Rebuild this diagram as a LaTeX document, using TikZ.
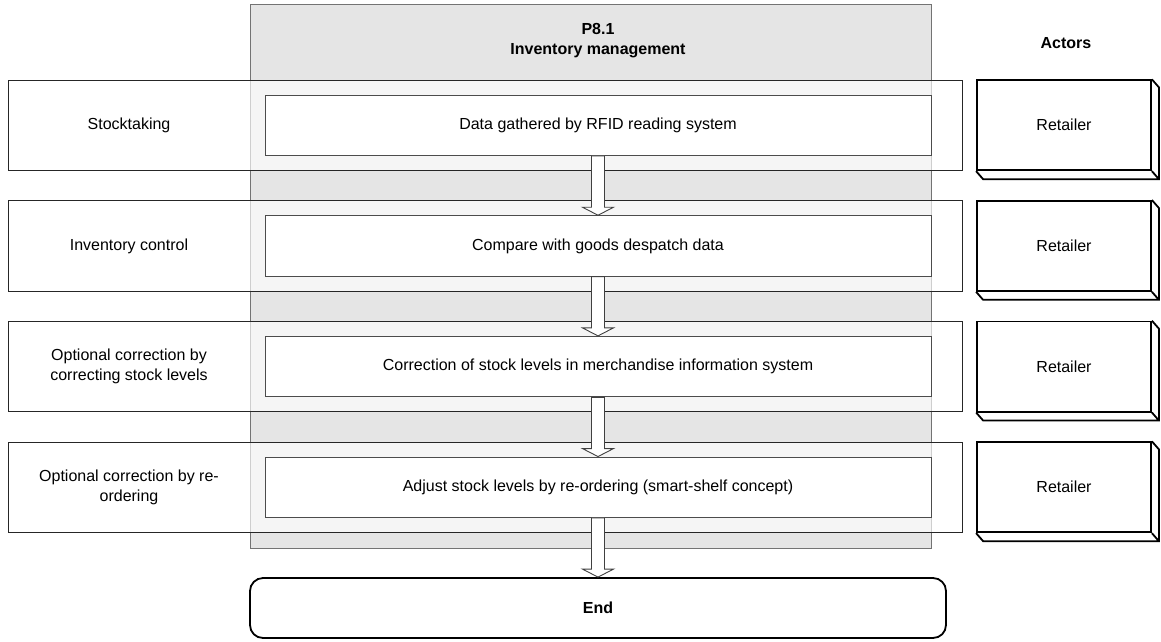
\documentclass[tikz,border=0pt]{standalone}
\usepackage{fontspec}
\setmainfont{Liberation Sans}
\usetikzlibrary{calc}
\tikzset{
  lane/.style={draw=black!55, fill=gray!20, minimum width=681pt, minimum height=544pt, inner sep=0pt},
  rowbox/.style={draw=black!85, fill=white, fill opacity=0.65, text opacity=1, line width=0.9pt, minimum width=954pt, minimum height=90.5pt, inner sep=0pt},
  stepbox/.style={draw=black!70, fill=white, line width=0.9pt, minimum width=666pt, minimum height=60.5pt, inner sep=0pt},
  actorbox/.style={draw, fill=white, line width=1.8pt, minimum width=174pt, minimum height=90pt, inner sep=0pt},
  endbox/.style={draw, line width=1.8pt, rounded corners=13pt, minimum width=696pt, minimum height=60pt, inner sep=0pt},
  hollow/.style={draw=black!75, fill=white, line width=0.9pt, to path={
    ++(-6.5,0) -- ($(\tikztotarget)+(-6.5,-8)$) -- ($(\tikztotarget)+(-15.5,-8)$)
    -- (\tikztotarget) -- ($(\tikztotarget)+(15.5,-8)$) -- ($(\tikztotarget)+(6.5,-8)$)
    -- ($(\tikztostart)+(6.5,0)$) -- cycle}},
}
\begin{document}
\begin{tikzpicture}[x=1pt, y=-1pt, font=\fontsize{16}{20}\selectfont, align=center]
    \useasboundingbox (0,0) rectangle (1161,641);
    % swim lane and headers
    \node[lane] (lane) at (590.5,276) {};
    \node[font=\fontsize{16}{20}\selectfont\bfseries] (title) at (598,41) {P8.1\\Inventory management};
    \node[font=\fontsize{16}{20}\selectfont\bfseries] (actors) at (1066,43) {Actors};
    % rows
    \foreach \i/\lab/\txt in {1/Stocktaking/Data gathered by RFID reading system,
        2/Inventory control/Compare with goods despatch data,
        3/{Optional correction by\\correcting stock levels}/Correction of stock levels in merchandise information system,
        4/{Optional correction by re-\\ordering}/Adjust stock levels by re-ordering (smart-shelf concept)} {
      \pgfmathsetmacro\yc{125.25+120.67*(\i-1)}
      \node[rowbox] (row\i) at (485,\yc) {};
      \node (lab\i) at (129,\yc) {\lab};
      \node[stepbox] (step\i) at (598,\yc) {\txt};
      \node[actorbox] (act\i) at (1064,\yc) {Retailer};
      \draw[line width=1.8pt] (act\i.south west) -- ++(7,8) -- ($(act\i.south east)+(7,8)$)
        -- ($(act\i.north east)+(7,8)$) -- (act\i.north east) (act\i.south east) -- ++(7,8);
    }
    \node[endbox, font=\fontsize{16}{20}\selectfont\bfseries] (end) at (598,608) {End};
    % arrows
    \foreach \i [evaluate=\i as \j using int(\i+1)] in {1,2,3}
      \draw[hollow] (step\i.south) to (step\j.north);
    \draw[hollow] (step4.south) to (end.north);
\end{tikzpicture}
\end{document}
